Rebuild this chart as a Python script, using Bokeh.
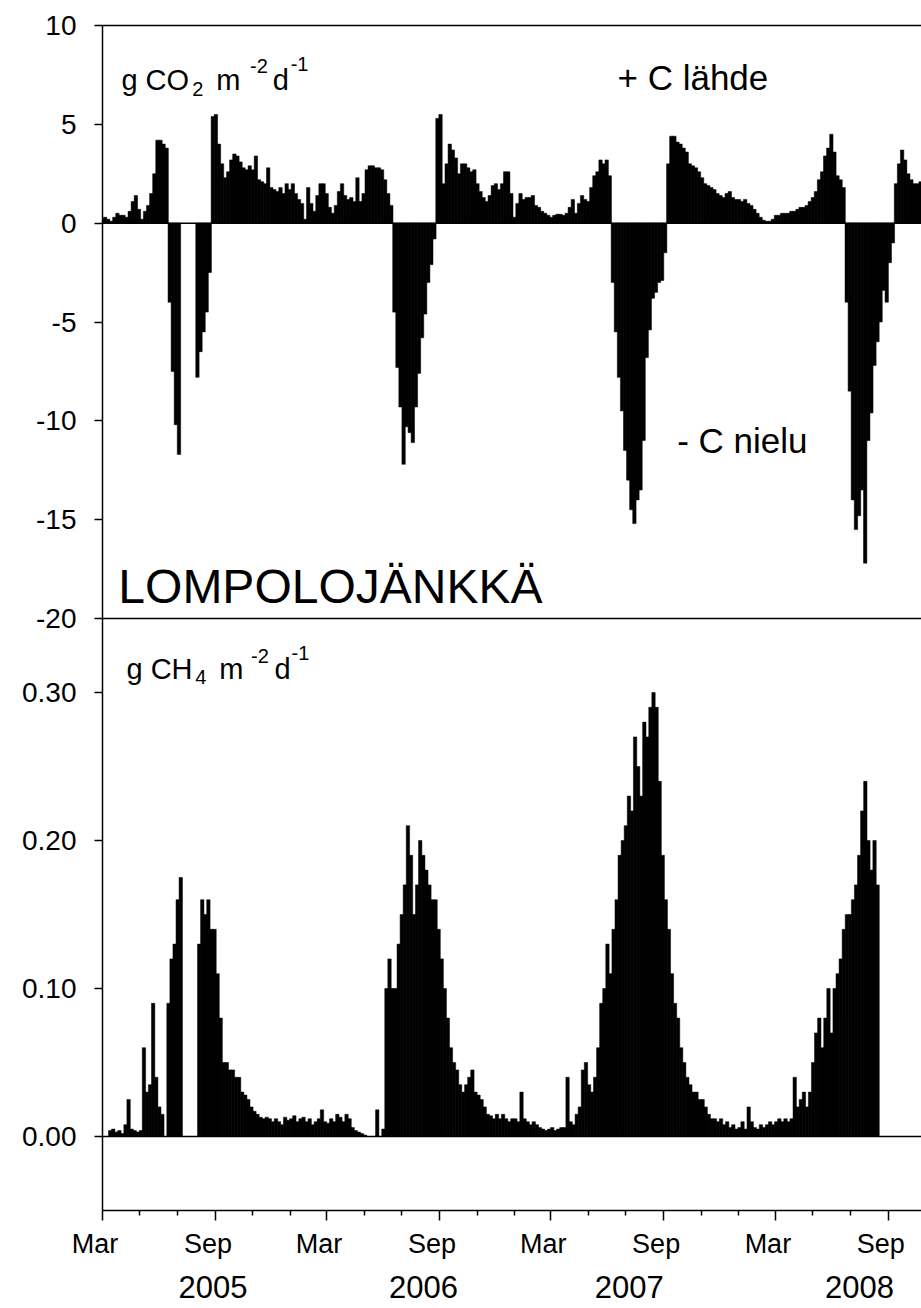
import numpy as np
import pandas as pd
from bokeh.plotting import figure
from bokeh.layouts import column
from bokeh.models import (Range1d, LinearAxis, FixedTicker, Span, Label,
                          NumeralTickFormatter, ColumnDataSource)
from bokeh.embed import file_html
from bokeh.resources import INLINE

nan = float("nan")

# Net ecosystem CO2 exchange, g CO2 m-2 d-1, mean of each 5-day period
# starting 1 March 2005 (positive = source, negative = sink, nan = no data)
co2_2005 = [0.2, 0.3, 0.2, 0.1, 0.3, 0.5, 0.4, 0.4, 0.3, 0.6,
            1.1, 1.4, 0.7, 0.2, 0.6, 0.9, 1.5, 2.5, 4.2, 4.2,
            4.0, 3.8, -4.0, -7.5, -10.2, -11.7, nan, nan, nan, nan,
            nan, -7.8, -6.5, -5.5, -4.5, -2.5, 5.4, 5.5, 4.0, 3.0,
            2.3, 2.6, 3.2, 3.5, 3.4, 3.1, 2.8, 2.7, 2.9, 2.7,
            3.4, 2.2, 2.1, 2.0, 2.8, 1.8, 1.7, 1.6, 1.8, 1.5,
            2.0, 1.7, 2.0, 1.5, 1.2, 1.0, 0.2, 1.8, 1.0, 0.6,
            1.4, 2.0, 2.0]
co2_2006 = [1.5, 0.8, 0.5, 0.9, 1.6, 2.0, 1.4,
            1.2, 1.3, 1.1, 2.3, 1.1, 1.5, 2.7, 2.9, 2.9, 2.8,
            2.8, 2.7, 2.2, 1.5, 0.9, -4.5, -7.3, -9.3, -12.2, -10.3,
            -10.6, -11.1, -9.3, -7.6, -5.8, -4.6, -3.0, -2.1, -0.8, 5.3,
            5.5, 2.0, 3.0, 4.0, 3.7, 3.3, 2.5, 3.0, 3.0, 2.8,
            2.6, 2.7, 2.0, 1.6, 1.3, 1.1, 1.4, 1.9, 2.0, 1.7,
            2.0, 2.6, 2.6, 1.5, 0.3, 1.0, 1.5, 1.2, 1.3, 1.3,
            1.4, 0.9, 0.8, 0.6, 0.5, 0.4]
co2_2007 = [0.3, 0.4, 0.45, 0.45,
            0.4, 0.5, 0.8, 1.2, 0.5, 1.0, 1.4, 1.2, 1.1, 1.8,
            2.4, 2.6, 3.2, 3.0, 3.2, 2.4, -3.0, -5.5, -7.8, -9.5,
            -11.5, -13.0, -14.5, -15.2, -14.0, -13.5, -11.0, -6.8, -5.4, -3.8,
            -3.5, -3.0, -2.9, -1.5, 3.0, 4.4, 4.4, 4.1, 4.0, 3.8,
            3.6, 3.0, 2.9, 2.8, 2.6, 2.3, 2.0, 1.9, 1.8, 1.7,
            1.5, 1.4, 1.3, 1.5, 1.6, 1.3, 1.2, 1.2, 1.1, 1.2,
            1.0, 0.9, 0.7, 0.5, 0.3, 0.15, 0.1, 0.1, 0.2]
co2_2008 = [0.4,
            0.4, 0.5, 0.5, 0.5, 0.6, 0.6, 0.7, 0.8, 0.8, 0.9,
            1.1, 1.3, 1.6, 2.2, 2.6, 3.4, 3.8, 4.5, 3.6, 2.4,
            2.2, 1.8, -4.0, -8.5, -14.0, -15.5, -14.8, -13.5, -17.2, -11.0,
            -9.6, -7.2, -6.0, -5.0, -3.4, -4.0, -2.0, -1.0, 2.0, 3.0,
            3.7, 3.2, 2.5, 2.2, 2.0, 2.0, 2.1]

# Methane flux, g CH4 m-2 d-1, same 5-day periods
ch4_2005 = [nan, nan, 0.004, 0.005, 0.003, 0.004, 0.002, 0.008, 0.025, 0.005,
            0.004, 0.003, 0.004, 0.06, 0.03, 0.035, 0.09, 0.04, 0.02, 0.015,
            nan, 0.09, 0.12, 0.13, 0.16, 0.175, nan, nan, nan, nan,
            nan, 0.13, 0.16, 0.15, 0.16, 0.14, 0.14, 0.11, 0.08, 0.05,
            0.05, 0.045, 0.045, 0.04, 0.04, 0.03, 0.028, 0.025, 0.02, 0.017,
            0.015, 0.013, 0.012, 0.013, 0.012, 0.01, 0.012, 0.01, 0.008, 0.013,
            0.011, 0.012, 0.014, 0.01, 0.012, 0.013, 0.01, 0.012, 0.008, 0.01,
            0.012, 0.018, 0.01]
ch4_2006 = [0.009, 0.012, 0.01, 0.015, 0.013, 0.01, 0.015,
            0.012, 0.006, 0.004, 0.003, 0.002, 0.001, nan, nan, nan, 0.018,
            nan, 0.005, 0.10, 0.12, 0.10, 0.10, 0.13, 0.15, 0.17, 0.21,
            0.19, 0.15, 0.17, 0.20, 0.19, 0.18, 0.17, 0.16, 0.16, 0.14,
            0.12, 0.10, 0.08, 0.06, 0.05, 0.045, 0.035, 0.03, 0.035, 0.04,
            0.045, 0.03, 0.028, 0.025, 0.02, 0.015, 0.014, 0.012, 0.015, 0.012,
            0.015, 0.012, 0.01, 0.012, 0.012, 0.01, 0.03, 0.012, 0.01, 0.008,
            0.01, 0.008, 0.006, 0.005, 0.004, 0.005]
ch4_2007 = [0.006, 0.004, 0.005, 0.006,
            0.006, 0.04, 0.01, 0.008, 0.015, 0.02, 0.045, 0.05, 0.035, 0.03,
            0.04, 0.06, 0.09, 0.10, 0.13, 0.11, 0.14, 0.16, 0.19, 0.20,
            0.21, 0.23, 0.22, 0.27, 0.25, 0.23, 0.28, 0.27, 0.29, 0.30,
            0.29, 0.24, 0.19, 0.16, 0.14, 0.11, 0.09, 0.08, 0.06, 0.05,
            0.04, 0.035, 0.03, 0.03, 0.025, 0.025, 0.02, 0.015, 0.012, 0.012,
            0.01, 0.012, 0.008, 0.01, 0.006, 0.008, 0.005, 0.006, 0.01, 0.005,
            0.02, 0.01, 0.006, 0.005, 0.008, 0.006, 0.008, 0.01, 0.008]
ch4_2008 = [0.01,
            0.012, 0.01, 0.012, 0.01, 0.012, 0.04, 0.02, 0.025, 0.03, 0.02,
            0.03, 0.05, 0.07, 0.08, 0.06, 0.08, 0.10, 0.07, 0.10, 0.11,
            0.12, 0.14, 0.15, 0.15, 0.16, 0.17, 0.19, 0.22, 0.24, 0.20,
            0.18, 0.20, 0.17, nan, nan, nan, nan, nan, nan, nan,
            nan, nan, nan, nan, nan, nan, nan]

co2_ticks = [-20, -15, -10, -5, 0, 5, 10]
ch4_ticks = [0.0, 0.1, 0.2, 0.3]
month_names = {3: "Mar", 9: "Sep"}
year_names = ["2005", "2006", "2007", "2008"]
year_label_dates = ["2005-08-28", "2006-08-06", "2007-07-07", "2008-07-16"]

FONT = "Liberation Sans"
series_start = pd.Timestamp("2005-03-01")
period = pd.Timedelta(days=5)


def ms(t):
    return int(pd.Timestamp(t).value // 10**6)


co2 = np.array(co2_2005 + co2_2006 + co2_2007 + co2_2008, dtype=float)
ch4 = np.array(ch4_2005 + ch4_2006 + ch4_2007 + ch4_2008, dtype=float)
starts = pd.date_range(series_start, periods=len(co2), freq="5D")
src = ColumnDataSource(dict(x=starts + period / 2, co2=co2, ch4=ch4))
# bars slightly wider than a period so neighbouring bars close up
bar_width = period.total_seconds() * 1000 * 1.1

x_end = series_start + pd.Timedelta(days=1334)


def plain_axis():
    return LinearAxis(ticker=FixedTicker(ticks=[]),
                      major_tick_line_color=None, minor_tick_line_color=None,
                      axis_line_color="black", axis_line_width=1.5)


def style_y(ax):
    ax.axis_line_width = 1.5
    ax.axis_line_color = "black"
    ax.major_tick_line_width = 1.5
    ax.major_tick_line_color = "black"
    ax.major_tick_out = 8
    ax.major_tick_in = 0
    ax.minor_tick_line_color = None
    ax.major_label_text_font = FONT
    ax.major_label_text_font_size = "28px"
    ax.major_label_text_color = "black"
    ax.major_label_standoff = 18


# ---------- CO2 panel ----------
OVERLAP = 24
top = figure(width=921, height=618 + OVERLAP, toolbar_location=None, output_backend="svg",
             x_range=Range1d(series_start + pd.Timedelta(days=3.25), x_end),
             y_range=Range1d(-20, 10), x_axis_location=None, y_axis_location=None,
             min_border_left=102, min_border_right=0, min_border_top=25,
             min_border_bottom=OVERLAP)
top.outline_line_color = None
top.grid.visible = False

yax = LinearAxis(ticker=FixedTicker(ticks=co2_ticks),
                 major_label_overrides={t: str(t) for t in co2_ticks})
style_y(yax)
top.add_layout(yax, "left")
top.add_layout(plain_axis(), "above")
top.add_layout(plain_axis(), "below")

top.vbar(x="x", width=bar_width, top="co2", bottom=0, source=src,
         fill_color="black", line_color="black", line_width=0.5)
top.add_layout(Span(location=0, dimension="width", line_color="black", line_width=1.5))


def unit_label(fig, parts):
    for text, when, yv, size in parts:
        fig.add_layout(Label(x=ms(when), y=yv, text=text, text_font=FONT,
                             text_font_size=size, text_color="black",
                             text_align="left", text_baseline="alphabetic"))


unit_label(top, [("g CO", "2005-04-04", 7.22, "29px"),
                 ("2", "2005-07-28", 6.80, "20px"),
                 ("m", "2005-09-05", 7.22, "29px"),
                 ("-2", "2005-10-30", 7.97, "20px"),
                 ("d", "2005-12-06", 7.22, "29px"),
                 ("-1", "2006-01-04", 8.05, "20px")])
unit_label(top, [("+ C lähde", "2007-06-19", 7.38, "35px"),
                 ("- C nielu", "2007-09-24", -11.0, "35px"),
                 ("LOMPOLOJÄNKKÄ", "2005-03-30", -18.4, "48px")])

# ---------- CH4 panel ----------
bot = figure(width=921, height=1308 - 618, toolbar_location=None, output_backend="svg",
             x_range=Range1d(series_start, x_end), y_range=Range1d(-0.05, 0.35),
             x_axis_location=None, y_axis_location=None,
             min_border_left=100, min_border_right=0, min_border_top=0,
             min_border_bottom=98, styles={"margin-top": f"-{OVERLAP}px"})
bot.outline_line_color = None
bot.grid.visible = False
bot.border_fill_color = None
bot.background_fill_color = None

yax2 = LinearAxis(ticker=FixedTicker(ticks=ch4_ticks),
                  formatter=NumeralTickFormatter(format="0.00"))
style_y(yax2)
bot.add_layout(yax2, "left")

bot.vbar(x="x", width=bar_width, top="ch4", bottom=0, source=src,
         fill_color="black", line_color="black", line_width=0.5)
bot.add_layout(Span(location=0, dimension="width", line_color="black", line_width=1.5))

unit_label(bot, [("g CH", "2005-04-09", 0.316, "29px"),
                 ("4", "2005-07-30", 0.3103, "20px"),
                 ("m", "2005-09-07", 0.316, "29px"),
                 ("-2", "2005-10-29", 0.325, "20px"),
                 ("d", "2005-12-06", 0.316, "29px"),
                 ("-1", "2006-01-03", 0.327, "20px")])

# time axis: tick marks every second month, March and September named;
# the names sit a little left of their ticks (trailing no-break spaces)
tick_dates = pd.date_range("2005-03-01", "2008-09-01", freq="2MS")
named = {ms(t): month_names[t.month] + "\u00a0\u00a0" for t in tick_dates
         if t.month in month_names}
minor = [ms(t) for t in tick_dates if t.month not in month_names]
xa = LinearAxis(ticker=FixedTicker(ticks=list(named), minor_ticks=minor),
                major_label_overrides=named, major_label_standoff=8,
                major_label_text_font=FONT, major_label_text_font_size="27px",
                major_label_text_color="black",
                axis_line_width=1.5, axis_line_color="black",
                major_tick_line_width=1.5, major_tick_out=10, major_tick_in=0,
                minor_tick_line_width=1.5, minor_tick_out=5, minor_tick_in=0)
bot.add_layout(xa, "below")

year_pos = {ms(d): y for d, y in zip(year_label_dates, year_names)}
xc = LinearAxis(ticker=FixedTicker(ticks=list(year_pos)), major_label_overrides=year_pos,
                axis_line_color=None, major_tick_line_color=None,
                minor_tick_line_color=None, major_label_standoff=8,
                major_label_text_font=FONT, major_label_text_font_size="31px",
                major_label_text_color="black")
bot.add_layout(xc, "below")

layout = column(top, bot, spacing=0)
open("out.html", "w").write(file_html(layout, INLINE))
